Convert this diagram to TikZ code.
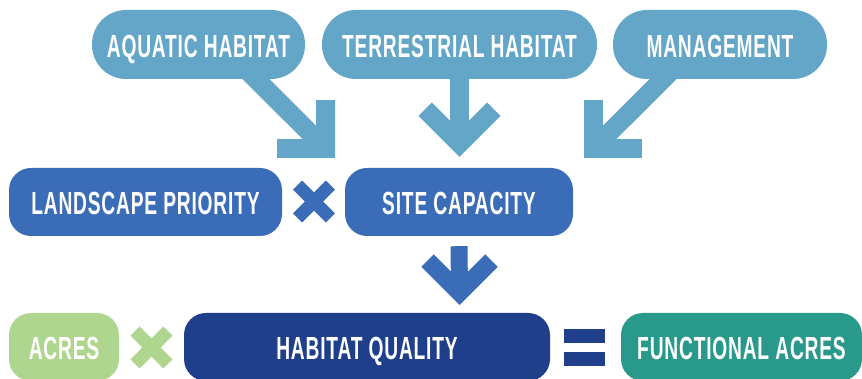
\documentclass[tikz,border=0pt]{standalone}
\usepackage{fontspec}
\newfontfamily\lblfont[FakeStretch=0.6, LetterSpace=2.5]{Liberation Sans}
\usetikzlibrary{calc}

\definecolor{skyblue}{HTML}{64A6C8}
\definecolor{midblue}{HTML}{3B6CB7}
\definecolor{navyblue}{HTML}{1F3F8A}
\definecolor{leafgreen}{HTML}{AFD68E}
\definecolor{tealgreen}{HTML}{28998A}

\begin{document}
\begin{tikzpicture}[x=1pt,y=1pt,
  box/.style={rounded corners=22pt, minimum height=68pt, inner sep=0pt,
    text=white, font=\lblfont\bfseries\fontsize{32}{33}\selectfont,
    text height=25.9pt, text depth=0pt},
  bubble/.style={box, rounded corners=34pt, minimum height=69pt, fill=skyblue},
  arrowstem/.style={line width=#1, line cap=butt},
  pics/chevron/.style={code={
    \fill (0,0) -- (-41,41) -- (-27.6,54.4) -- (0,26.8)
          -- (27.6,54.4) -- (41,41) -- cycle;}},
  pics/times/.style={code={
    \draw[line width=13pt, line cap=butt]
      (-16.4,-16.4) -- (16.4,16.4) (-16.4,16.4) -- (16.4,-16.4);}},
  pics/equals/.style={code={
    \fill (-20.5,4.5) rectangle (20.5,18.5);
    \fill (-20.5,-18.5) rectangle (20.5,-4.5);}}
]
\useasboundingbox (0,0) rectangle (862,379);

% inputs
\node[bubble, minimum width=213pt] (aq)   at (198.5,334.5) {AQUATIC HABITAT};
\node[bubble, minimum width=275pt] (terr) at (459.5,334.5) {TERRESTRIAL HABITAT};
\node[bubble, minimum width=214pt] (mgmt) at (720,334.5)   {MANAGEMENT};

% middle row
\node[box, fill=midblue, minimum width=273pt] (land) at (145.5,177) {LANDSCAPE PRIORITY};
\node[box, fill=midblue, minimum width=228pt] (site) at (459,177)   {SITE CAPACITY};

% bottom row
\node[box, fill=leafgreen, minimum width=110pt] (acres) at (64,32)    {ACRES};
\node[box, fill=navyblue,  minimum width=366pt] (hq)    at (367,32)   {HABITAT QUALITY};
\node[box, fill=tealgreen, minimum width=241pt] (fa)    at (741.5,32) {FUNCTIONAL ACRES};

% arrow tips
\coordinate (tipA) at (335,221);
\coordinate (tipT) at (459.5,222);
\coordinate (tipM) at (584,221);
\coordinate (tipS) at (459.5,74);

% arrows from the inputs into site capacity
\draw[arrowstem=19pt, skyblue] ($(aq.south)+(41.5,16)$) -- ($(tipA)+(-12.7,12.7)$);
\pic[skyblue, rotate=45] at (tipA) {chevron};
\draw[arrowstem=19pt, skyblue] ([yshift=10pt]terr.south) -- ($(tipT)+(0,18)$);
\pic[skyblue] at (tipT) {chevron};
\draw[arrowstem=19pt, skyblue] ($(mgmt.south)+(-41,16)$) -- ($(tipM)+(12.7,12.7)$);
\pic[skyblue, rotate=-45] at (tipM) {chevron};

% site capacity down to habitat quality
\draw[arrowstem=17pt, midblue] ([yshift=-10pt]site.south) -- ($(tipS)+(0,15)$);
\pic[midblue, scale=0.93] at (tipS) {chevron};

% operators
\coordinate (op1) at (314,177.5);
\coordinate (op2) at (151.5,31.5);
\coordinate (op3) at (584.5,31.5);
\pic[midblue] at (op1) {times};
\pic[leafgreen] at (op2) {times};
\pic[navyblue] at (op3) {equals};
\end{tikzpicture}
\end{document}
